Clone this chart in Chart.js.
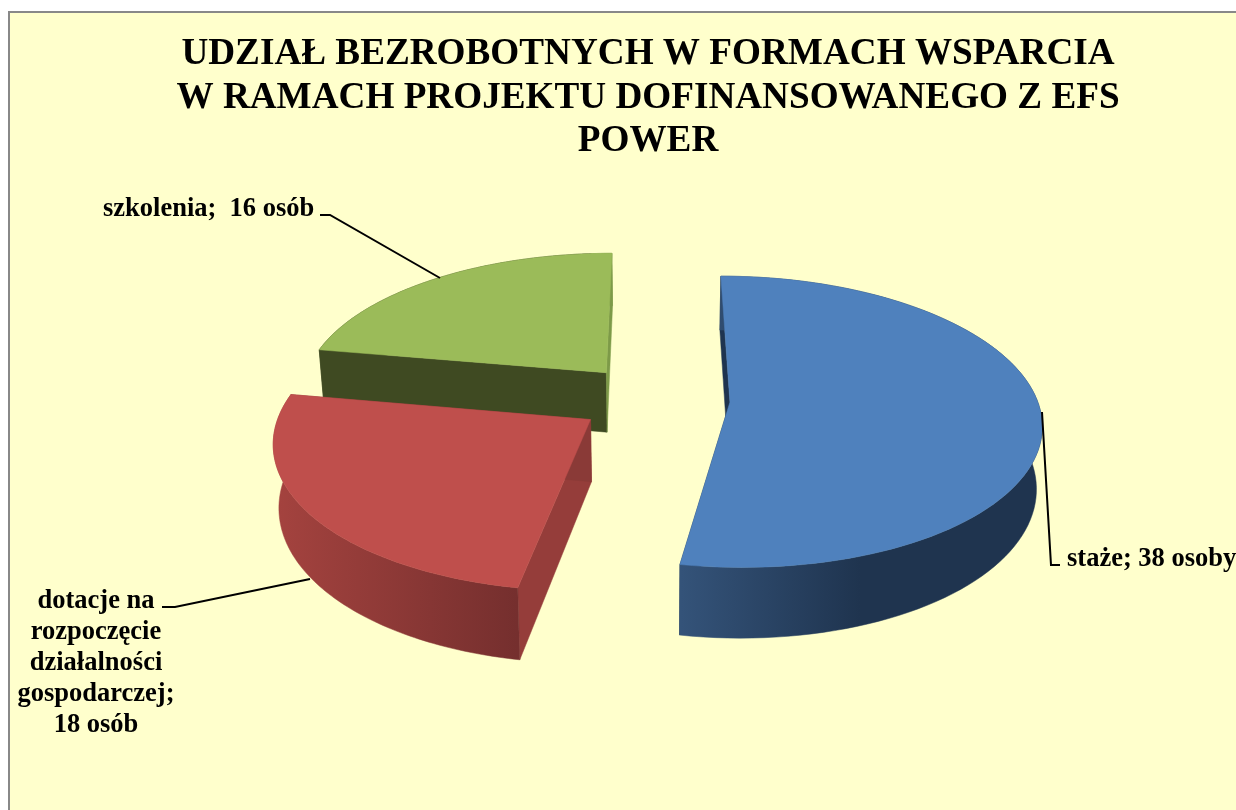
<!DOCTYPE html>
<html lang="pl">
<head>
<meta charset="utf-8">
<title>Udział bezrobotnych</title>
<script src="https://cdn.jsdelivr.net/npm/chart.js@4"></script>
<style>
html,body{margin:0;padding:0;background:#fff;overflow:hidden;width:1236px;height:810px}
#frame{position:absolute;left:8px;top:11px;width:1240px;height:810px;border:2px solid #888;background:#ffffcc}
canvas{position:absolute;left:0;top:0}
</style>
</head>
<body>
<div id="frame"></div>
<canvas id="c" width="1236" height="810"></canvas>
<script>
const categories = ['staże', 'dotacje na rozpoczęcie działalności gospodarczej', 'szkolenia'];
const values = [38, 18, 16];
const titleLines = ['UDZIAŁ BEZROBOTNYCH W FORMACH WSPARCIA', 'W RAMACH PROJEKTU DOFINANSOWANEGO Z EFS', 'POWER'];
const labelLines = [['staże; 38 osoby'], ['dotacje na', 'rozpoczęcie', 'działalności', 'gospodarczej;', '18 osób'], ['szkolenia;  16 osób']];
const topColors = ['#4f81bd', '#bf4f4c', '#9bbb59'];
const startWall = ['#1f344f', '#953d3a', '#3f4a22'];
const endWall = ['#1f344f', '#8a3a37', '#7d9a48'];
const bandStops = [
  [[681, '#345379'], [860, '#1f344f'], [1042, '#1f344f']],
  [[272, '#a5433f'], [517, '#752f2e']],
  [[322, '#3f4a22'], [590, '#3f4a22'], [592, '#7d9a48'], [614, '#7d9a48']]
];
const labelAnchors = [
  {x: 1067, y: 566, align: 'left'},
  {x: 96, y: 608, align: 'center'},
  {x: 103, y: 216, align: 'left'}
];
const leaders = [
  [[1042, 412], [1051, 565], [1060, 565]],
  [[162, 607], [175, 607], [310, 579]],
  [[320, 215], [330, 215], [440, 278]]
];
const VIEW = {cx: 654, cy: 399, R: 307, D: 2277, k: 0.463, depth: 61, shrink: 0.015};

function project(el, angle, r, z) {
  const mid = (el.startAngle + el.endAngle) / 2;
  const d = el.options.offset;
  const u = d * Math.cos(mid) + r * Math.cos(angle);
  const v = d * Math.sin(mid) + r * Math.sin(angle);
  const s = VIEW.D / (VIEW.D - v);
  return {
    x: VIEW.cx + u * s * (1 - z * VIEW.shrink),
    y: VIEW.cy + (VIEW.k * v + z * VIEW.depth) * s
  };
}
function poly(ctx, pts, fill) {
  ctx.beginPath();
  pts.forEach((p, i) => i ? ctx.lineTo(p.x, p.y) : ctx.moveTo(p.x, p.y));
  ctx.closePath();
  ctx.fillStyle = fill;
  ctx.fill();
  ctx.strokeStyle = fill;
  ctx.lineWidth = 0.5;
  ctx.stroke();
}
function rim(el, z) {
  const out = [];
  const n = 96;
  for (let i = 0; i <= n; i++) {
    out.push(project(el, el.startAngle + (el.endAngle - el.startAngle) * i / n, VIEW.R, z));
  }
  return out;
}
const pie3d = {
  id: 'pie3d',
  beforeDatasetsDraw(chart) {
    const ctx = chart.ctx;
    const els = chart.getDatasetMeta(0).data;
    for (let i = els.length - 1; i >= 0; i--) {
      const el = els[i];
      const top = rim(el, 0), bottom = rim(el, 1);
      const a0 = project(el, 0, 0, 0), a1 = project(el, 0, 0, 1);
      ctx.save();
      poly(ctx, [a0, top[0], bottom[0], a1], startWall[i]);
      poly(ctx, [a0, top[top.length - 1], bottom[bottom.length - 1], a1], endWall[i]);
      const stops = bandStops[i];
      const g = ctx.createLinearGradient(stops[0][0], 0, stops[stops.length - 1][0], 0);
      const span = stops[stops.length - 1][0] - stops[0][0];
      stops.forEach(s => g.addColorStop((s[0] - stops[0][0]) / span, s[1]));
      poly(ctx, top.concat(bottom.slice().reverse()), g);
      poly(ctx, [a0].concat(top), el.options.backgroundColor);
      ctx.restore();
    }
    return false;
  },
  afterDraw(chart) {
    const ctx = chart.ctx;
    ctx.save();
    ctx.strokeStyle = '#000';
    ctx.lineWidth = 2;
    leaders.forEach(l => {
      ctx.beginPath();
      l.forEach((p, i) => i ? ctx.lineTo(p[0], p[1]) : ctx.moveTo(p[0], p[1]));
      ctx.stroke();
    });
    ctx.fillStyle = '#000';
    ctx.font = 'bold 26.5px "Liberation Serif"';
    ctx.textBaseline = 'alphabetic';
    labelLines.forEach((lines, i) => {
      const a = labelAnchors[i];
      ctx.textAlign = a.align;
      lines.forEach((t, j) => ctx.fillText(t, a.x, a.y + j * 31));
    });
    ctx.restore();
  }
};
new Chart(document.getElementById('c'), {
  type: 'pie',
  data: {
    labels: categories,
    datasets: [{data: values, backgroundColor: topColors, borderWidth: 0, offset: 76}]
  },
  options: {
    responsive: false,
    animation: false,
    events: [],
    layout: {padding: {left: 60, top: 13}},
    plugins: {
      legend: {display: false},
      tooltip: {enabled: false},
      title: {
        display: true,
        text: titleLines,
        color: '#000',
        font: {family: '"Liberation Serif"', size: 37.2, weight: 'bold', lineHeight: 1.17},
        padding: {top: 20, bottom: 10}
      }
    }
  },
  plugins: [pie3d]
});
</script>
</body>
</html>
